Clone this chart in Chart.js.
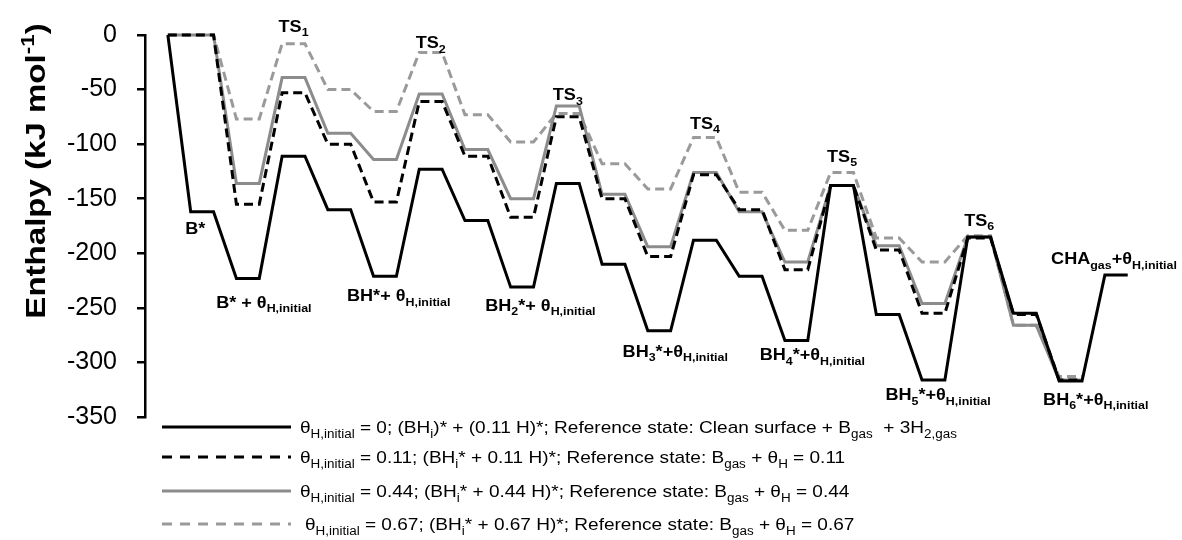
<!DOCTYPE html>
<html>
<head>
<meta charset="utf-8">
<script src="https://cdn.jsdelivr.net/npm/chart.js@4.4.1/dist/chart.umd.min.js"></script>
<style>
  html, body { margin: 0; padding: 0; background: #fff; }
  #wrap { width: 1182px; height: 540px; }
</style>
</head>
<body>
<div id="wrap"><canvas id="profile" width="1182" height="540"></canvas></div>
<script>
// states along the reaction path (first entry = reference, drawn as a single point)
var states = ['ref', 'B*', 'B*+H', 'TS1', 'BH*', 'BH*+H', 'TS2', 'BH2*', 'BH2*+H', 'TS3', 'BH3*', 'BH3*+H',
              'TS4', 'BH4*', 'BH4*+H', 'TS5', 'BH5*', 'BH5*+H', 'TS6', 'BH6*', 'BH6*+H', 'CHAgas+H'];

// enthalpies (kJ/mol) per state
var dH_000 = [0, -162, -223, -111, -160, -221, -123, -170, -231, -136, -210, -271, -188, -221, -280, -138, -256, -316, -185, -255, -317, -220];
var dH_011 = [0, 0, -155, -53, -100, -153, -61, -111, -167, -75, -150, -203, -128, -160, -215, -138, -197, -255, -186, -256, -316];
var dH_044 = [0, 0, -136, -39, -90, -114, -54, -105, -150, -65, -146, -194, -126, -162, -208, -138, -193, -246, -185, -266, -316];
var dH_067 = [0, 0, -77, -8, -50, -70, -16, -73, -98, -72, -118, -141, -94, -144, -179, -126, -186, -208, -184, -266, -313];

var yTicks = [0, -50, -100, -150, -200, -250, -300, -350];

var seriesNames = [
    'θ_{H,initial} = 0; (BH_{i})* + (0.11 H)*; Reference state: Clean surface + B_{gas}  + 3H_{2,gas}',
    'θ_{H,initial} = 0.11; (BH_{i}* + 0.11 H)*; Reference state: B_{gas} + θ_{H} = 0.11',
    'θ_{H,initial} = 0.44; (BH_{i}* + 0.44 H)*; Reference state: B_{gas} + θ_{H} = 0.44',
    'θ_{H,initial} = 0.67; (BH_{i}* + 0.67 H)*; Reference state: B_{gas} + θ_{H} = 0.67'
];

// state labels, placed in data units (x = path position, y = kJ/mol at text baseline)
var stateLabels = [
    { t: 'TS_{1}', x: 5.5, y: 3 },
    { t: 'TS_{2}', x: 11.5, y: -12 },
    { t: 'TS_{3}', x: 17.5, y: -60 },
    { t: 'TS_{4}', x: 23.5, y: -86 },
    { t: 'TS_{5}', x: 29.5, y: -116 },
    { t: 'TS_{6}', x: 35.5, y: -175 },
    { t: 'CHA_{gas}+θ_{H,initial}', x: 41.4, y: -210 },
    { t: 'B*', x: 1.2, y: -182 },
    { t: 'B* + θ_{H,initial}', x: 4.2, y: -250 },
    { t: 'BH*+ θ_{H,initial}', x: 10.1, y: -244 },
    { t: 'BH_{2}*+ θ_{H,initial}', x: 16.3, y: -252.5 },
    { t: 'BH_{3}*+θ_{H,initial}', x: 22.2, y: -295 },
    { t: 'BH_{4}*+θ_{H,initial}', x: 28.2, y: -298 },
    { t: 'BH_{5}*+θ_{H,initial}', x: 33.7, y: -334.5 },
    { t: 'BH_{6}*+θ_{H,initial}', x: 40.6, y: -339 }
];

var FONT = '"Liberation Sans", Arial, sans-serif';

// each state becomes a short plateau: two points per level
function levelPoints(levels) {
    var pts = [{ x: 0, y: levels[0] }];
    for (var k = 1; k < levels.length; k++) {
        pts.push({ x: 2 * k - 1, y: levels[k] });
        pts.push({ x: 2 * k, y: levels[k] });
    }
    return pts;
}

// 'a_{sub}' / 'a^{sup}' markup -> [text, kind] parts
function parseRich(str) {
    var parts = [], last = 0, re = /([_^])\{([^}]*)\}/g, m;
    while ((m = re.exec(str)) !== null) {
        if (m.index > last) parts.push([str.slice(last, m.index), '']);
        parts.push([m[2], m[1] === '_' ? 'sub' : 'sup']);
        last = m.index + m[0].length;
    }
    if (last < str.length) parts.push([str.slice(last), '']);
    return parts;
}

function drawRich(ctx, str, x, y, o) {
    var parts = parseRich(str);
    var size = o.size, small = Math.round(size * 0.68);
    var sx = o.stretch || 1;
    var w = 0;
    parts.forEach(function (p) {
        ctx.font = o.weight + ' ' + (p[1] ? small : size) + 'px ' + FONT;
        p.w = ctx.measureText(p[0]).width;
        w += p.w;
    });
    var x0 = o.align === 'center' ? x - w * sx / 2 : x;
    ctx.save();
    ctx.translate(x0, y);
    ctx.scale(sx, 1);
    ctx.fillStyle = o.color || '#000';
    ctx.textBaseline = 'alphabetic';
    ctx.textAlign = 'left';
    var cx = 0;
    parts.forEach(function (p) {
        ctx.font = o.weight + ' ' + (p[1] ? small : size) + 'px ' + FONT;
        var dy = p[1] === 'sub' ? size * 0.28 : (p[1] === 'sup' ? -size * 0.38 : 0);
        ctx.fillText(p[0], cx, dy);
        cx += p.w;
    });
    ctx.restore();
}

var profileDecor = {
    id: 'profileDecor',
    afterDraw: function (chart) {
        var ctx = chart.ctx, xs = chart.scales.x, ys = chart.scales.y;

        // state labels
        stateLabels.forEach(function (l) {
            drawRich(ctx, l.t, xs.getPixelForValue(l.x), ys.getPixelForValue(l.y),
                { size: 16, weight: 'bold', align: 'center', stretch: 1.13 });
        });

        // y axis title
        ctx.save();
        ctx.translate(45, 171);
        ctx.rotate(-Math.PI / 2);
        drawRich(ctx, 'Enthalpy (kJ mol^{-1})', 0, 0, { size: 28, weight: 'bold', align: 'center', stretch: 1.18 });
        ctx.restore();

        // legend below the plot
        var rowY = [427, 457, 491, 524];
        chart.data.datasets.forEach(function (ds, i) {
            var y = rowY[i];
            ctx.save();
            ctx.strokeStyle = ds.borderColor;
            ctx.lineWidth = ds.borderWidth;
            ctx.setLineDash(ds.borderDash && ds.borderDash.length ? [10, 8] : []);
            ctx.beginPath();
            ctx.moveTo(162, y);
            ctx.lineTo(291, y);
            ctx.stroke();
            ctx.restore();
            drawRich(ctx, ds.label, i === 3 ? 305 : 300, y + 6,
                { size: 17, weight: 'normal', align: 'left', stretch: 1.12 });
        });
    }
};

var ctx = document.getElementById('profile').getContext('2d');
window.profileChart = new Chart(ctx, {
    type: 'line',
    data: {
        datasets: [
            { label: seriesNames[0], data: levelPoints(dH_000), borderColor: '#000000', borderWidth: 3, borderDash: [] },
            { label: seriesNames[1], data: levelPoints(dH_011), borderColor: '#000000', borderWidth: 3, borderDash: [9, 5] },
            { label: seriesNames[2], data: levelPoints(dH_044), borderColor: '#8c8c8c', borderWidth: 3, borderDash: [] },
            { label: seriesNames[3], data: levelPoints(dH_067), borderColor: '#9a9a9a', borderWidth: 3, borderDash: [9, 5] }
        ]
    },
    options: {
        responsive: false,
        animation: false,
        events: [],
        layout: { padding: { top: 33, bottom: 123, left: 0, right: 20 } },
        elements: {
            point: { radius: 0 },
            line: { tension: 0, fill: false, borderCapStyle: 'butt', borderJoinStyle: 'miter' }
        },
        datasets: { line: { clip: false } },
        plugins: { legend: { display: false }, title: { display: false }, tooltip: { enabled: false } },
        scales: {
            x: { type: 'linear', min: -1, max: 43.5, display: false },
            y: {
                min: -350,
                max: 0,
                afterFit: function (scale) { scale.width = 145; },
                afterBuildTicks: function (scale) {
                    scale.ticks = yTicks.map(function (v) { return { value: v }; });
                },
                border: { display: true, color: '#000', width: 2.5 },
                grid: { display: true, drawOnChartArea: false, drawTicks: true, tickLength: 8, color: '#000', lineWidth: 2.5 },
                ticks: { padding: 20, color: '#000', font: { family: FONT, size: 25 } }
            }
        }
    },
    plugins: [profileDecor]
});
</script>
</body>
</html>
